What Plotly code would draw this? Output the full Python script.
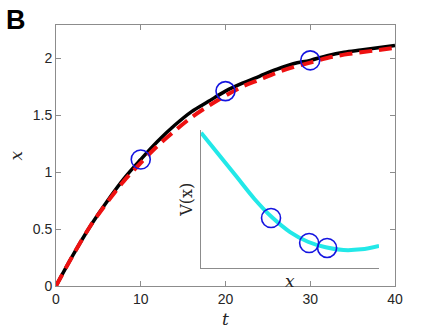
import plotly.graph_objects as go

# main panel: x(t)
t_vals = [0, 2, 4, 6, 8, 10, 12, 14, 16, 18, 20, 22, 24, 26, 28, 30, 32, 34, 36, 38, 40]
x_exact = [0, 0.27, 0.52, 0.74, 0.94, 1.11, 1.27, 1.41, 1.53, 1.62, 1.71, 1.78, 1.84,
           1.90, 1.95, 1.98, 2.02, 2.05, 2.07, 2.09, 2.11]
x_approx = [0, 0.27, 0.52, 0.73, 0.92, 1.08, 1.23, 1.36, 1.48, 1.58, 1.67, 1.75, 1.81,
            1.87, 1.92, 1.96, 2.00, 2.03, 2.05, 2.07, 2.09]
t_marks = [10, 20, 30]
x_marks = [1.11, 1.71, 1.98]

# inset: potential V(x)
v_pos = [0, 0.1, 0.2, 0.3, 0.4, 0.5, 0.6, 0.7, 0.8, 0.9, 1.0]
v_vals = [0.98, 0.82, 0.66, 0.50, 0.365, 0.26, 0.19, 0.15, 0.13, 0.135, 0.16]
v_mark_pos = [0.393, 0.607, 0.708]
v_mark_vals = [0.362, 0.181, 0.145]

axis_grey = "#8c8c8c"
tick_font = dict(family="Liberation Sans, Arial", size=14, color="#262626")
serif = "DejaVu Serif, Liberation Serif"

fig = go.Figure()

fig.add_trace(go.Scatter(x=t_vals, y=x_exact, mode="lines",
                         line=dict(color="black", width=3.5, shape="spline"),
                         showlegend=False))
fig.add_trace(go.Scatter(x=t_vals, y=x_approx, mode="lines",
                         line=dict(color="#ee1111", width=4, dash="13px,7px", shape="spline"),
                         showlegend=False))
fig.add_trace(go.Scatter(x=t_marks, y=x_marks, mode="markers",
                         marker=dict(symbol="circle-open", size=19, color="#1414e0",
                                     line=dict(width=1.6)),
                         showlegend=False))

# inset
fig.add_trace(go.Scatter(x=v_pos, y=v_vals, mode="lines", xaxis="x2", yaxis="y2",
                         line=dict(color="#22e8e8", width=4, shape="spline"),
                         showlegend=False))
fig.add_trace(go.Scatter(x=v_mark_pos, y=v_mark_vals, mode="markers", xaxis="x2", yaxis="y2",
                         marker=dict(symbol="circle-open", size=19, color="#1414e0",
                                     line=dict(width=1.6)),
                         showlegend=False))

fig.update_layout(
    width=436, height=334,
    margin=dict(l=56, r=41, t=25, b=48),
    paper_bgcolor="white", plot_bgcolor="white",
    xaxis=dict(range=[0, 40], tickvals=[0, 10, 20, 30, 40], ticks="inside", ticklen=5,
               tickcolor=axis_grey, showline=True, linecolor=axis_grey, linewidth=1,
               mirror="ticks", showgrid=False, zeroline=False, tickfont=tick_font),
    yaxis=dict(range=[0, 2.29], tickvals=[0, 0.5, 1, 1.5, 2], ticks="inside", ticklen=5,
               tickcolor=axis_grey, showline=True, linecolor=axis_grey, linewidth=1,
               mirror="ticks", showgrid=False, zeroline=False, tickfont=tick_font),
    xaxis2=dict(domain=[0.428, 0.953], anchor="y2", range=[0, 1], showline=True,
                linecolor=axis_grey, linewidth=1, showticklabels=False, ticks="",
                showgrid=False, zeroline=False),
    yaxis2=dict(domain=[0.069, 0.598], anchor="x2", range=[0, 1], showline=True,
                linecolor=axis_grey, linewidth=1, showticklabels=False, ticks="",
                showgrid=False, zeroline=False),
    annotations=[
        dict(text="<b>B</b>", xref="paper", yref="paper", x=-0.152, y=1.085,
             xanchor="left", yanchor="top", showarrow=False,
             font=dict(family="Liberation Sans, Arial", size=27, color="black")),
        dict(text="<i>t</i>", xref="paper", yref="paper", x=0.5, y=-0.125,
             xanchor="center", yanchor="middle", showarrow=False,
             font=dict(family=serif, size=17, color="#262626")),
        dict(text="<i>x</i>", xref="paper", yref="paper", x=-0.118, y=0.5,
             xanchor="center", yanchor="middle", textangle=-90, showarrow=False,
             font=dict(family=serif, size=17, color="#262626")),
        dict(text="V(x)", xref="paper", yref="paper", x=0.386, y=0.33,
             xanchor="center", yanchor="middle", textangle=-90, showarrow=False,
             font=dict(family=serif, size=16, color="#262626")),
        dict(text="<i>x</i>", xref="paper", yref="paper", x=0.69, y=0.02,
             xanchor="center", yanchor="middle", showarrow=False,
             font=dict(family=serif, size=17, color="#262626")),
    ],
)

# drop the default page margin so the figure sits at the window's corner
fig.write_html("out.html", config={"displayModeBar": False},
               post_script="document.body.style.margin='0';")
